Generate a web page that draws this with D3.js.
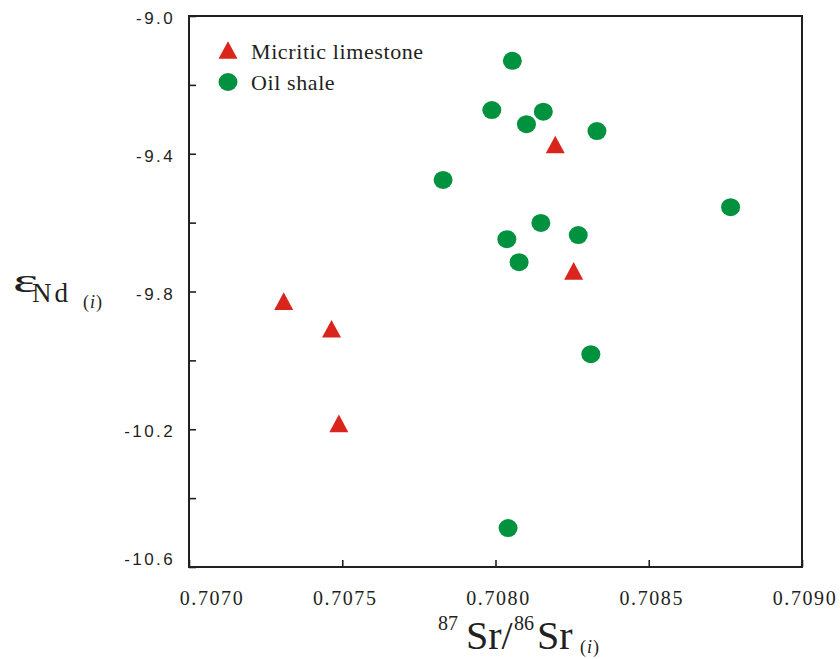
<!DOCTYPE html>
<html>
<head>
<meta charset="utf-8">
<script src="https://cdn.jsdelivr.net/npm/d3@7"></script>
<style>
  body { margin: 0; background: #fff; }
  svg { display: block; }
</style>
</head>
<body>
<div id="chart"></div>
<script>
// 87Sr/86Sr(i) vs eNd(i)
var limestoneSr = [0.708195, 0.708255, 0.707309, 0.707465, 0.707489];
var limestoneNd = [-9.373, -9.740, -9.828, -9.908, -10.183];

var shaleSr = [0.708055, 0.707988, 0.708156, 0.708101, 0.708331, 0.707829, 0.708767,
               0.708148, 0.708270, 0.708037, 0.708077, 0.708311, 0.708041];
var shaleNd = [-9.130, -9.273, -9.278, -9.314, -9.334, -9.476, -9.555,
               -9.601, -9.636, -9.648, -9.715, -9.982, -10.487];

var xTicks = [0.7070, 0.7075, 0.7080, 0.7085, 0.7090];
var yTicks = [-9.0, -9.2, -9.4, -9.6, -9.8, -10.0, -10.2, -10.4, -10.6];
var yLabels = [-9.0, -9.4, -9.8, -10.2, -10.6];

var legendNames = ['Micritic limestone', 'Oil shale'];

var W = 840, H = 659;
var margin = { top: 16, right: 802, bottom: 567, left: 189 };
var red = '#da251d', green = '#00923f', ink = '#231f20';

var svg = d3.select('#chart').append('svg')
    .attr('width', W)
    .attr('height', H);

var x = d3.scaleLinear().domain([0.7070, 0.7090]).range([margin.left, margin.right]);
var y = d3.scaleLinear().domain([-9.0, -10.6]).range([margin.top, margin.bottom]);

// ticks point inwards
var xAxis = svg.append('g')
    .attr('transform', 'translate(0,' + margin.bottom + ')')
    .call(d3.axisBottom(x).tickValues(xTicks).tickSize(-7).tickFormat(''));
xAxis.select('.domain').remove();
xAxis.selectAll('line').attr('stroke', ink).attr('stroke-width', 1.6);

var yAxis = svg.append('g')
    .attr('transform', 'translate(' + margin.left + ',0)')
    .call(d3.axisLeft(y).tickValues(yTicks).tickSize(-7).tickFormat(''));
yAxis.select('.domain').remove();
yAxis.selectAll('line').attr('stroke', ink).attr('stroke-width', 1.6);

// frame
svg.append('rect')
    .attr('x', margin.left).attr('y', margin.top)
    .attr('width', margin.right - margin.left).attr('height', margin.bottom - margin.top)
    .attr('fill', 'none')
    .attr('stroke', ink)
    .attr('stroke-width', 2);

// tick labels
svg.selectAll('.xLabel')
    .data(xTicks)
    .enter().append('text')
    .attr('class', 'xLabel')
    .attr('x', function(d, i) { return i === 0 ? x(d) + 23 : x(d) + 3; })
    .attr('y', 605)
    .attr('text-anchor', 'middle')
    .style('font-family', '"Liberation Serif", "Times New Roman", serif')
    .style('font-size', '20px')
    .style('letter-spacing', '1.6px')
    .attr('fill', ink)
    .text(function(d) { return d3.format('.4f')(d); });

svg.selectAll('.yLabel')
    .data(yLabels)
    .enter().append('text')
    .attr('class', 'yLabel')
    .attr('x', 175)
    .attr('y', function(d, i) { return i === yLabels.length - 1 ? y(d) - 2 : y(d) + 8; })
    .attr('text-anchor', 'end')
    .style('font-family', '"Liberation Sans", Arial, sans-serif')
    .style('font-size', '17px')
    .style('letter-spacing', '2.4px')
    .attr('fill', ink)
    .text(function(d) { return d3.format('.1f')(d).replace('−', '-'); });

// axis titles
var serif = '"Liberation Serif", "Times New Roman", serif';

var yt = svg.append('g').attr('fill', ink).style('font-family', serif);
yt.append('text').attr('x', 13).attr('y', 292)
    .attr('textLength', 25).attr('lengthAdjust', 'spacingAndGlyphs')
    .style('font-size', '33px').text('ε');
yt.append('text').attr('x', 32).attr('y', 302)
    .style('font-size', '27px')
    .style('letter-spacing', '3px')
    .text('Nd');
yt.append('text').attr('x', 83).attr('y', 308)
    .style('font-size', '18px')
    .style('letter-spacing', '1px')
    .html('(<tspan font-style="italic">i</tspan>)');

var xt = svg.append('g').attr('fill', ink).style('font-family', serif);
xt.append('text').attr('x', 438).attr('y', 630).style('font-size', '20px').text('87');
xt.append('text').attr('x', 466).attr('y', 649).style('font-size', '40px').text('Sr/');
xt.append('text').attr('x', 514).attr('y', 630).style('font-size', '20px').text('86');
xt.append('text').attr('x', 537).attr('y', 649).style('font-size', '40px').text('Sr');
xt.append('text').attr('x', 580).attr('y', 653).style('font-size', '18px')
    .style('letter-spacing', '1px')
    .html('(<tspan font-style="italic">i</tspan>)');

// markers
function tri(cx, cy) {
  var p = d3.path();
  p.moveTo(cx, cy - 8.8);
  p.lineTo(cx + 9.5, cy + 8.8);
  p.lineTo(cx - 9.5, cy + 8.8);
  p.closePath();
  return p.toString();
}

svg.selectAll('.shale')
    .data(shaleSr)
    .enter().append('ellipse')
    .attr('class', 'shale')
    .attr('cx', function(d) { return x(d); })
    .attr('cy', function(d, i) { return y(shaleNd[i]); })
    .attr('rx', 9.5)
    .attr('ry', 9)
    .attr('fill', green);

svg.selectAll('.limestone')
    .data(limestoneSr)
    .enter().append('path')
    .attr('class', 'limestone')
    .attr('d', function(d, i) { return tri(x(d), y(limestoneNd[i])); })
    .attr('fill', red);

// legend
var lg = svg.append('g');
lg.append('path').attr('d', tri(228, 50)).attr('fill', red);
lg.append('ellipse').attr('cx', 228).attr('cy', 82).attr('rx', 9.5).attr('ry', 9).attr('fill', green);
lg.selectAll('text')
    .data(legendNames)
    .enter().append('text')
    .attr('x', 251)
    .attr('y', function(d, i) { return 59 + i * 31; })
    .style('font-family', serif)
    .style('font-size', '22px')
    .style('letter-spacing', '0.6px')
    .attr('fill', ink)
    .text(function(d) { return d; });
</script>
</body>
</html>
